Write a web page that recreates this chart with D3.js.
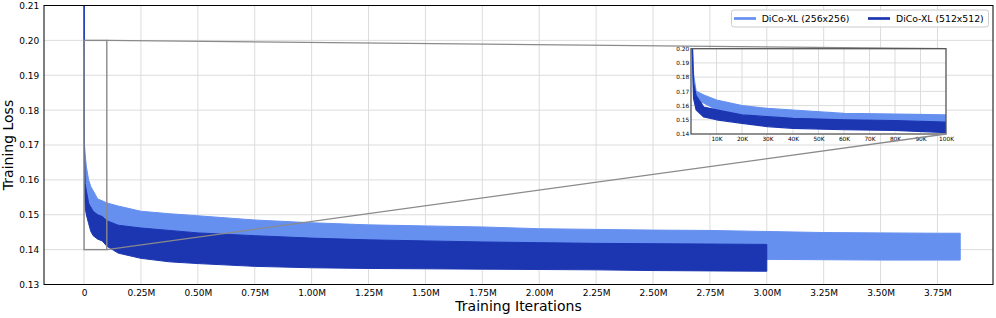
<!DOCTYPE html>
<html><head><meta charset="utf-8">
<script src="https://cdn.jsdelivr.net/npm/d3@7"></script>
<style>body{margin:0;background:#fff} svg{display:block} text{font-family:"DejaVu Sans",sans-serif;fill:#000}</style>
</head><body><svg id="c" width="996" height="318"></svg>
<script>
// ---- data ----
const iterations = [0, 1e3, 2e3, 5e3, 1e4, 2e4, 3e4, 4e4, 6e4, 8e4, 1e5, 1.5e5, 2.5e5, 3.75e5, 5e5, 7.5e5, 1e6, 1.25e6, 1.5e6, 1.75e6, 2e6, 2.25e6, 2.5e6, 2.75e6, 3e6, 3.25e6, 3.5e6, 3.75e6, 3.85e6];
const loss256Upper = [0.23, 0.182, 0.170, 0.1674, 0.1639, 0.160, 0.158, 0.1569, 0.1545, 0.154, 0.1534, 0.1525, 0.151, 0.1503, 0.1497, 0.1485, 0.1477, 0.1471, 0.1468, 0.1465, 0.146, 0.1458, 0.1456, 0.1455, 0.1452, 0.1449, 0.1448, 0.1447, 0.1447];
const loss256Lower = [0.23, 0.172, 0.163, 0.1618, 0.157, 0.1534, 0.1527, 0.151, 0.1487, 0.148, 0.1475, 0.146, 0.1435, 0.142, 0.141, 0.1402, 0.1395, 0.139, 0.1386, 0.1383, 0.138, 0.1378, 0.1376, 0.1374, 0.1372, 0.1371, 0.137, 0.137, 0.137];
const loss512Upper = [0.23, 0.176, 0.167, 0.159, 0.157, 0.1534, 0.1522, 0.151, 0.150, 0.1495, 0.1483, 0.147, 0.1462, 0.1455, 0.1448, 0.144, 0.1433, 0.1428, 0.1425, 0.1422, 0.142, 0.1418, 0.1417, 0.1416, 0.1415];
const loss512Lower = [0.23, 0.165, 0.157, 0.152, 0.150, 0.1475, 0.1452, 0.144, 0.143, 0.1425, 0.141, 0.139, 0.1375, 0.1365, 0.136, 0.1352, 0.1348, 0.1346, 0.1345, 0.1344, 0.1343, 0.1342, 0.134, 0.1339, 0.1338];
const seriesNames = ["DiCo-XL (256x256)", "DiCo-XL (512x512)"];
const xTicks = [0, 0.25e6, 0.5e6, 0.75e6, 1e6, 1.25e6, 1.5e6, 1.75e6, 2e6, 2.25e6, 2.5e6, 2.75e6, 3e6, 3.25e6, 3.5e6, 3.75e6];
const xTickLabels = ["0", "0.25M", "0.50M", "0.75M", "1.00M", "1.25M", "1.50M", "1.75M", "2.00M", "2.25M", "2.50M", "2.75M", "3.00M", "3.25M", "3.50M", "3.75M"];
const yTicks = [0.13, 0.14, 0.15, 0.16, 0.17, 0.18, 0.19, 0.20, 0.21];
const insetXTicks = [1e4, 2e4, 3e4, 4e4, 5e4, 6e4, 7e4, 8e4, 9e4, 1e5];
const insetXTickLabels = ["10K", "20K", "30K", "40K", "50K", "60K", "70K", "80K", "90K", "100K"];
const insetYTicks = [0.14, 0.15, 0.16, 0.17, 0.18, 0.19, 0.20];

const colors = ["#6690f0", "#1c36b2"];

const series = [
  iterations.map((it, i) => ({it, hi: loss256Upper[i], lo: loss256Lower[i]})),
  loss512Upper.map((v, i) => ({it: iterations[i], hi: v, lo: loss512Lower[i]}))
];

const svg = d3.select("#c");
const L = 44, R = 993, T = 5.5, B = 284.5;
const x = d3.scaleLinear().domain([-0.176e6, 3.994e6]).range([L, R]);
const y = d3.scaleLinear().domain([0.13, 0.21]).range([B, T]);

svg.append("defs").append("clipPath").attr("id", "clipMain")
  .append("rect").attr("x", L).attr("y", T).attr("width", R - L).attr("height", B - T);

// grid
const grid = svg.append("g");
grid.selectAll(".gx").data(xTicks).join("line")
  .attr("x1", d => x(d)).attr("x2", d => x(d)).attr("y1", T).attr("y2", B)
  .attr("stroke", "#dcdcdc").attr("stroke-width", 1);
grid.selectAll(".gy").data(yTicks).join("line")
  .attr("y1", d => y(d)).attr("y2", d => y(d)).attr("x1", L).attr("x2", R)
  .attr("stroke", "#dcdcdc").attr("stroke-width", 1);

function drawSeries(g, xs, ys, sw) {
  series.forEach((s, k) => {
    const area = d3.area().x(d => xs(d.it)).y0(d => ys(d.lo)).y1(d => ys(d.hi));
    g.append("path").datum(s).attr("d", area)
      .attr("fill", colors[k]).attr("stroke", colors[k]).attr("stroke-width", sw).attr("stroke-linejoin", "round");
  });
}
const plot = svg.append("g").attr("clip-path", "url(#clipMain)");
drawSeries(plot, x, y, 1);

// axes
const xAxis = svg.append("g").attr("transform", `translate(0,${B})`)
  .call(d3.axisBottom(x).tickValues(xTicks).tickFormat((d, i) => xTickLabels[i]).tickSize(0).tickPadding(5.5));
const yAxis = svg.append("g").attr("transform", `translate(${L},0)`)
  .call(d3.axisLeft(y).tickValues(yTicks).tickFormat(d3.format(".2f")).tickSize(0).tickPadding(4.7));
[xAxis, yAxis].forEach(a => {
  a.select(".domain").remove();
  a.selectAll("text").attr("font-size", 9).attr("font-family", "DejaVu Sans").attr("fill", "#000");
});
svg.append("rect").attr("x", L).attr("y", T).attr("width", R - L).attr("height", B - T)
  .attr("fill", "none").attr("stroke", "#000").attr("stroke-width", 1);

svg.append("text").attr("x", (L + R) / 2).attr("y", 311).attr("text-anchor", "middle")
  .attr("font-size", 14).text("Training Iterations");
svg.append("text").attr("transform", `translate(12.5,${(T + B) / 2}) rotate(-90)`).attr("text-anchor", "middle")
  .attr("font-size", 14).text("Training Loss");

// inset
const IL = 691, IR = 946, IT = 48.7, IB = 134;
const ix = d3.scaleLinear().domain([0, 1e5]).range([IL, IR]);
const iy = d3.scaleLinear().domain([0.14, 0.20]).range([IB, IT]);

// zoom indicator + connectors
const gray = "#8a8a8a";
svg.append("rect").attr("x", x(0)).attr("y", y(0.20)).attr("width", x(1e5) - x(0)).attr("height", y(0.14) - y(0.20))
  .attr("fill", "none").attr("stroke", gray).attr("stroke-width", 1.4);
svg.append("line").attr("x1", x(1e5)).attr("y1", y(0.20)).attr("x2", IR).attr("y2", IT).attr("stroke", gray).attr("stroke-width", 1.3);

svg.select("defs").append("clipPath").attr("id", "clipInset")
  .append("rect").attr("x", IL).attr("y", IT).attr("width", IR - IL).attr("height", IB - IT);
const inset = svg.append("g");
inset.append("rect").attr("x", IL).attr("y", IT).attr("width", IR - IL).attr("height", IB - IT).attr("fill", "#fff");
inset.selectAll(".igx").data(insetXTicks.slice(0, -1)).join("line")
  .attr("x1", d => ix(d)).attr("x2", d => ix(d)).attr("y1", IT).attr("y2", IB).attr("stroke", "#dcdcdc").attr("stroke-width", 1);
inset.selectAll(".igy").data(insetYTicks.slice(1, -1)).join("line")
  .attr("y1", d => iy(d)).attr("y2", d => iy(d)).attr("x1", IL).attr("x2", IR).attr("stroke", "#dcdcdc").attr("stroke-width", 1);
const iplot = inset.append("g").attr("clip-path", "url(#clipInset)");
drawSeries(iplot, ix, iy, 1.2);
const ixAxis = inset.append("g").attr("transform", `translate(0,${IB})`)
  .call(d3.axisBottom(ix).tickValues(insetXTicks).tickFormat((d, i) => insetXTickLabels[i]).tickSize(0).tickPadding(3.2));
const iyAxis = inset.append("g").attr("transform", `translate(${IL},0)`)
  .call(d3.axisLeft(iy).tickValues(insetYTicks).tickFormat(d3.format(".2f")).tickSize(0).tickPadding(1.8));
[ixAxis, iyAxis].forEach(a => {
  a.select(".domain").remove();
  a.selectAll("text").attr("font-size", 5.8).attr("font-family", "DejaVu Sans").attr("fill", "#000");
});
inset.append("rect").attr("x", IL).attr("y", IT).attr("width", IR - IL).attr("height", IB - IT)
  .attr("fill", "none").attr("stroke", "#555").attr("stroke-width", 1.3);

svg.append("line").attr("x1", x(1e5)).attr("y1", y(0.14)).attr("x2", IR).attr("y2", IB).attr("stroke", gray).attr("stroke-width", 1.3);

// legend
const lg = svg.append("g");
lg.append("rect").attr("x", 731.5).attr("y", 10).attr("width", 257).attr("height", 17).attr("rx", 2.5)
  .attr("fill", "#fff").attr("fill-opacity", 0.85).attr("stroke", "#cccccc").attr("stroke-width", 1);
const legX = [[734, 756, 761.7], [868, 890, 896]];
seriesNames.forEach((n, k) => {
  lg.append("line").attr("x1", legX[k][0]).attr("x2", legX[k][1]).attr("y1", 18.5).attr("y2", 18.5)
    .attr("stroke", colors[k]).attr("stroke-width", 2.7);
  lg.append("text").attr("x", legX[k][2]).attr("y", 18.5).attr("dy", "0.35em").attr("font-size", 9.3).text(n);
});
</script></body></html>
